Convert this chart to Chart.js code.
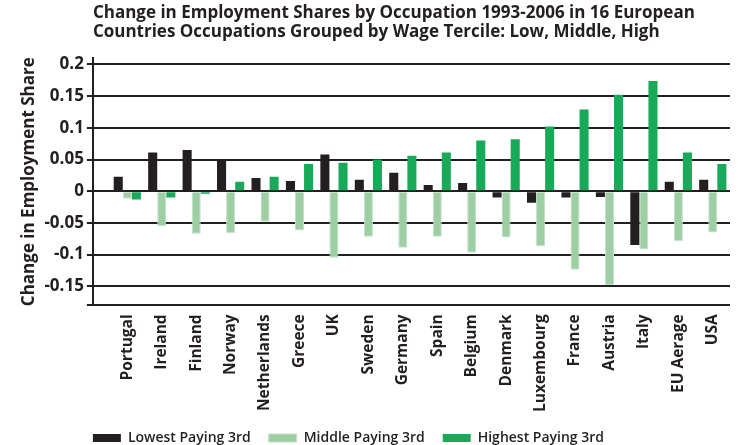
<!DOCTYPE html>
<html>
<head>
<meta charset="utf-8">
<script src="https://cdn.jsdelivr.net/npm/chart.js@4/dist/chart.umd.min.js"></script>
<style>
  html, body { margin: 0; padding: 0; background: #ffffff; }
  #wrap { width: 738px; height: 445px; }
</style>
</head>
<body>
<div id="wrap"><canvas id="jobs-chart"></canvas></div>
<script>
// Страны (категории по оси X)
const countries = ['Portugal', 'Ireland', 'Finland', 'Norway', 'Netherlands', 'Greece', 'UK', 'Sweden',
    'Germany', 'Spain', 'Belgium', 'Denmark', 'Luxembourg', 'France', 'Austria', 'Italy', 'EU Aerage', 'USA'];

// Изменение доли занятости по терцилям зарплаты
const lowestPaying = [0.023, 0.061, 0.065, 0.049, 0.021, 0.016, 0.058, 0.018, 0.029, 0.010, 0.013, -0.010,
    -0.018, -0.010, -0.009, -0.085, 0.015, 0.018];
const middlePaying = [-0.012, -0.055, -0.067, -0.066, -0.048, -0.062, -0.105, -0.072, -0.089, -0.072, -0.097, -0.073,
    -0.087, -0.124, -0.148, -0.092, -0.079, -0.065];
const highestPaying = [-0.013, -0.010, -0.004, 0.015, 0.023, 0.043, 0.045, 0.050, 0.056, 0.061, 0.080, 0.082,
    0.102, 0.129, 0.152, 0.174, 0.061, 0.043];

// Подписи оси Y
const yTicks = [0.2, 0.15, 0.1, 0.05, 0, -0.05, -0.1, -0.15];
const yMin = -0.18;
const yMax = 0.21;

const ink = '#231f20';
const font = 'Open Sans';

function toPoints(values) {
    return values.map((v, i) => ({ x: i, y: v }));
}

// Сдвигаем легенду влево, чтобы первый маркер стоял под осью Y
const legendShift = {
    id: 'legendShift',
    afterLayout(chart) {
        const lg = chart.legend;
        const pad = lg.options.labels.padding;
        lg.left -= pad;
        lg.right -= pad;
    }
};

const ctx = document.getElementById('jobs-chart').getContext('2d');

window.myChart = new Chart(ctx, {
    type: 'bar',
    data: {
        datasets: [
            { label: 'Lowest Paying 3rd', data: toPoints(lowestPaying), backgroundColor: ink },
            { label: 'Middle Paying 3rd', data: toPoints(middlePaying), backgroundColor: '#9dcea4',
              borderColor: '#c3e2c7', borderWidth: 1 },
            { label: 'Highest Paying 3rd', data: toPoints(highestPaying), backgroundColor: '#19aa59' }
        ]
    },
    plugins: [legendShift],
    options: {
        responsive: true,
        maintainAspectRatio: false,
        animation: false,
        categoryPercentage: 0.79,
        barPercentage: 1,
        layout: { padding: { left: 19, right: 8, top: 4, bottom: -10 } },
        plugins: {
            title: {
                display: true,
                align: 'start',
                fullSize: false,
                text: ['Change in Employment Shares by Occupation 1993-2006 in 16 European',
                       'Countries Occupations Grouped by Wage Tercile: Low, Middle, High'],
                color: ink,
                font: { family: font, size: 17, weight: 'bold', lineHeight: 1.12 },
                padding: { top: 0, bottom: 16 }
            },
            legend: {
                position: 'bottom',
                align: 'start',
                fullSize: false,
                labels: {
                    boxWidth: 28,
                    boxHeight: 8,
                    padding: 18,
                    color: ink,
                    font: { family: font, size: 14, weight: '600' }
                }
            },
            tooltip: { enabled: false }
        },
        scales: {
            x: {
                type: 'linear',
                offset: false,
                min: -1,
                max: 17.5,
                afterBuildTicks: (scale) => {
                    scale.ticks = countries.map((c, i) => ({ value: i }));
                },
                grid: { display: false },
                border: { display: false },
                ticks: {
                    autoSkip: false,
                    maxRotation: 90,
                    minRotation: 90,
                    padding: 1,
                    color: ink,
                    font: { family: font, size: 15.5, weight: 'bold' },
                    callback: (v) => countries[v] || ''
                }
            },
            y: {
                min: yMin,
                max: yMax,
                afterBuildTicks: (scale) => {
                    scale.ticks = yTicks.concat([yMin]).map(v => ({ value: v }));
                },
                grid: {
                    color: ink,
                    lineWidth: 2,
                    tickLength: 6
                },
                border: { color: ink, width: 2 },
                ticks: {
                    padding: 3,
                    color: ink,
                    font: { family: font, size: 17, weight: 'bold' },
                    callback: (v) => yTicks.includes(v) ? String(v) : ''
                },
                title: {
                    display: true,
                    text: 'Change in Employment Share',
                    color: ink,
                    font: { family: font, size: 17, weight: 'bold' },
                    padding: { top: 0, bottom: 2 }
                }
            }
        }
    }
});
</script>
</body>
</html>
